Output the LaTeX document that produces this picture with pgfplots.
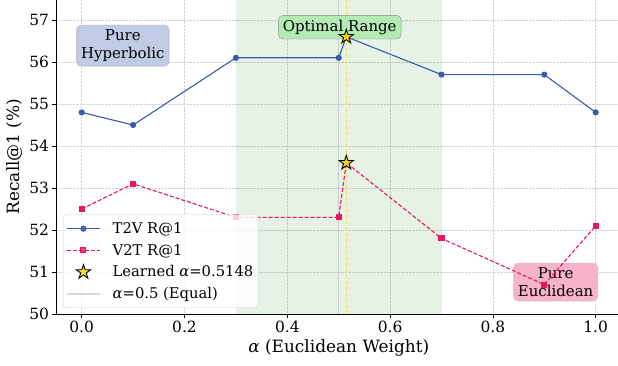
\documentclass[border=0pt]{standalone}
\usepackage{pgfplots}
\pgfplotsset{compat=1.18}
\usepackage{fontspec}
\setmainfont{DejaVu Serif}
\definecolor{t2v}{RGB}{59,91,169}
\definecolor{v2t}{RGB}{232,23,93}
\definecolor{gold}{RGB}{255,215,0}
\definecolor{hypbox}{RGB}{192,204,228}
\definecolor{optbox}{RGB}{180,234,180}
\definecolor{eucbox}{RGB}{247,178,204}
\definecolor{legbord}{RGB}{204,204,204}
\pgfdeclareplotmark{fstar}{%
  \pgfpathmoveto{\pgfpointpolar{90}{\pgfplotmarksize}}%
  \pgfpathlineto{\pgfpointpolar{126}{0.382\pgfplotmarksize}}%
  \pgfpathlineto{\pgfpointpolar{162}{\pgfplotmarksize}}%
  \pgfpathlineto{\pgfpointpolar{198}{0.382\pgfplotmarksize}}%
  \pgfpathlineto{\pgfpointpolar{234}{\pgfplotmarksize}}%
  \pgfpathlineto{\pgfpointpolar{270}{0.382\pgfplotmarksize}}%
  \pgfpathlineto{\pgfpointpolar{306}{\pgfplotmarksize}}%
  \pgfpathlineto{\pgfpointpolar{342}{0.382\pgfplotmarksize}}%
  \pgfpathlineto{\pgfpointpolar{18}{\pgfplotmarksize}}%
  \pgfpathlineto{\pgfpointpolar{54}{0.382\pgfplotmarksize}}%
  \pgfpathclose\pgfusepathqfillstroke}
\pgfplotsset{mylegend/.style={legend image code/.code={\draw[mark repeat=2,mark phase=2,##1] plot coordinates {(0bp,0bp) (16.5bp,0bp) (33bp,0bp)};}}}
\begin{document}
\begin{tikzpicture}
\useasboundingbox (0,0) rectangle (618bp,366bp);
\begin{axis}[
  at={(56bp,52bp)}, anchor=south west,
  scale only axis, width=565.4bp, height=315bp,
  xmin=-0.05, xmax=1.05, ymin=50, ymax=57.5,
  axis line style={line width=0.8bp},
  tick style={black, line width=0.8bp},
  tick align=outside, major tick length=3.5bp,
  xtick pos=left, ytick pos=left,
  xtick={0,0.2,0.4,0.6,0.8,1},
  xticklabels={0.0,0.2,0.4,0.6,0.8,1.0},
  ytick={50,51,52,53,54,55,56,57},
  grid=major,
  grid style={densely dotted, gray!35, line width=0.6bp},
  /pgf/number format/assume math mode=true,
  ticklabel style={font=\fontsize{15.5}{18}\selectfont},
  label style={font=\fontsize{17}{20}\selectfont},
  xlabel={\textit{α} (Euclidean Weight)},
  ylabel={Recall@1 (\%)},
  legend style={at={(0,0)}, anchor=south west, xshift=7bp, yshift=6bp,
    draw=legbord, fill=white, fill opacity=0.8, text opacity=1,
    rounded corners=3bp, font=\fontsize{14.8}{17}\selectfont,
    inner xsep=3bp, inner ysep=5bp, row sep=3.7bp, column sep=10bp,
    nodes={minimum height=18bp}},
  legend cell align=left,
]
\addplot[fill=green!50!black, fill opacity=0.1, draw=none, forget plot] coordinates {(0.3,50) (0.7,50) (0.7,57.5) (0.3,57.5)} -- cycle;
\addplot[gray, opacity=0.3, line width=1.5bp, forget plot] coordinates {(0.5,50) (0.5,57.5)};
\addplot[gold, dashed, line width=0.6bp, opacity=0.7, forget plot] coordinates {(0.5148,50) (0.5148,57.5)};

\node[fill=hypbox, draw=gray!60, rounded corners=4.5bp, inner sep=4.5bp, align=center, font=\fontsize{15}{18}\selectfont] at (axis cs:0.08,56.39) {Pure\\Hyperbolic};
\node[fill=optbox, draw=gray!90, rounded corners=4.5bp, inner sep=4.5bp, align=center, font=\fontsize{15}{18}\selectfont] at (axis cs:0.502,56.83) {Optimal Range};
\node[fill=eucbox, draw=gray!40, rounded corners=4.5bp, inner sep=4.5bp, align=center, font=\fontsize{15}{18}\selectfont] at (axis cs:0.922,50.76) {Pure\\Euclidean};

\addplot[t2v, line width=1.1bp, mark=*, mark size=2.5bp, forget plot] coordinates {(0,54.8) (0.1,54.5) (0.3,56.1) (0.5,56.1) (0.5148,56.6) (0.7,55.7) (0.9,55.7) (1.0,54.8)};
\addplot[v2t, line width=1.1bp, dash pattern=on 4bp off 2bp, mark=square*, mark size=2.5bp, mark options={solid}, forget plot] coordinates {(0,52.5) (0.1,53.1) (0.3,52.3) (0.5,52.3) (0.5148,53.6) (0.7,51.8) (0.9,50.7) (1.0,52.1)};
\addplot[only marks, mark=fstar, mark size=7.5bp, mark options={fill=gold, draw=black, line width=0.9bp}, forget plot] coordinates {(0.5148,56.6) (0.5148,53.6)};

\addlegendimage{mylegend, t2v, line width=1.1bp, mark=*, mark size=2.5bp}
\addlegendentry{T2V R@1}
\addlegendimage{mylegend, v2t, line width=1.1bp, dash pattern=on 4bp off 2bp, mark=square*, mark size=2.5bp, mark options={solid}}
\addlegendentry{V2T R@1}
\addlegendimage{only marks, mylegend, mark=fstar, mark size=7.5bp, mark options={fill=gold, draw=black, line width=0.9bp}}
\addlegendentry{Learned \textit{α}=0.5148}
\addlegendimage{mylegend, gray, opacity=0.3, line width=1.5bp}
\addlegendentry{\textit{α}=0.5 (Equal)}
\end{axis}
\end{tikzpicture}
\end{document}
